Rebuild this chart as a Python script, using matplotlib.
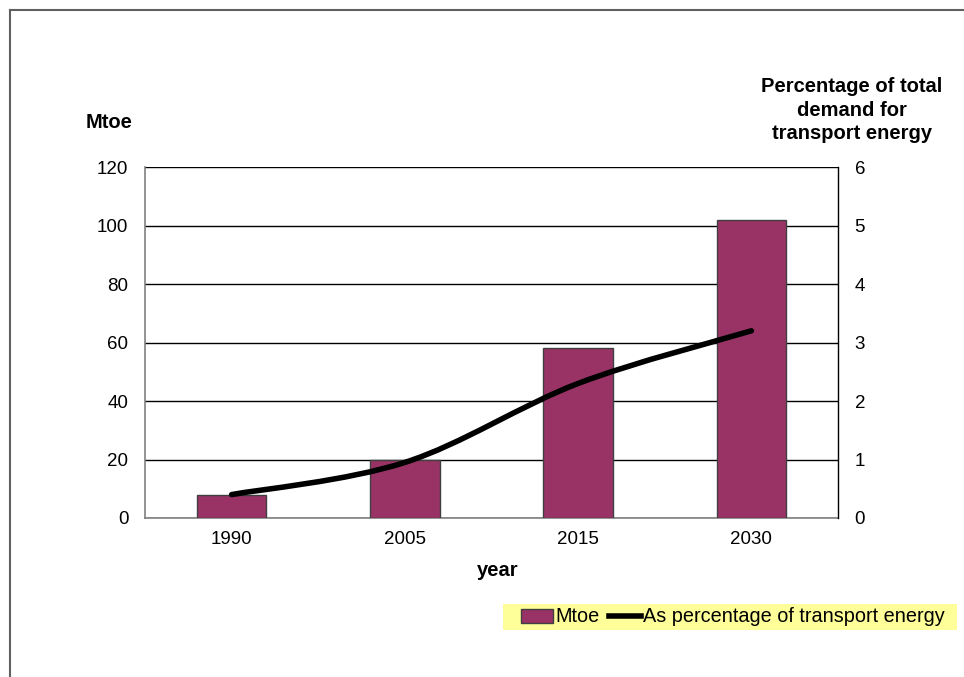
import matplotlib
matplotlib.use("Agg")
import matplotlib.pyplot as plt
import numpy as np
from matplotlib.path import Path
from matplotlib.patches import PathPatch, Rectangle, Patch
from matplotlib.lines import Line2D

plt.rcParams['font.family'] = ['Liberation Sans', 'DejaVu Sans']

years = ["1990", "2005", "2015", "2030"]
mtoe = [8, 20, 58, 102]
pct = [0.4, 0.95, 2.3, 3.2]

fig = plt.figure(figsize=(9.64, 6.77), dpi=100)
W, H = 964, 677
ax = fig.add_axes([145 / W, 1 - 518 / H, (838 - 145) / W, (518 - 167) / H])
x = np.arange(len(years))
ax.bar(x, mtoe, width=0.4, color='#993366', edgecolor='#404040', linewidth=1, zorder=3)
ax.set_xlim(-0.5, 3.5)
ax.set_ylim(0, 120)
ax.set_yticks(np.arange(0, 121, 20))
ax.set_xticks(x)
ax.set_xticklabels(years)
ax.tick_params(axis='both', labelsize=13.5, length=0, pad=12)
ax.tick_params(axis='x', pad=9)
ax.grid(axis='y', color='black', linewidth=1, zorder=0)
for s in ['left', 'bottom']:
    ax.spines[s].set_color('#808080')
    ax.spines[s].set_linewidth(1.2)
ax.spines['top'].set_visible(False)
ax.spines['right'].set_visible(False)

ax2 = ax.twinx()
ax2.set_ylim(0, 6)
ax2.set_yticks(np.arange(0, 7, 1))
ax2.tick_params(axis='y', labelsize=13.5, length=0, pad=12)
for s in ['left', 'top', 'bottom']:
    ax2.spines[s].set_visible(False)
ax2.spines['right'].set_color('black')
ax2.spines['right'].set_linewidth(1)

# smooth curve through points (Catmull-Rom -> cubic Bezier)
px = np.array(x, dtype=float)
py = np.array(pct, dtype=float)
verts = [(px[0], py[0])]
codes = [Path.MOVETO]
t = 1 / 6
n = len(px)
for i in range(n - 1):
    p0 = (px[max(i - 1, 0)], py[max(i - 1, 0)])
    p1 = (px[i], py[i])
    p2 = (px[i + 1], py[i + 1])
    p3 = (px[min(i + 2, n - 1)], py[min(i + 2, n - 1)])
    c1 = (p1[0] + (p2[0] - p0[0]) * t, p1[1] + (p2[1] - p0[1]) * t)
    c2 = (p2[0] - (p3[0] - p1[0]) * t, p2[1] - (p3[1] - p1[1]) * t)
    verts += [c1, c2, p2]
    codes += [Path.CURVE4] * 3
ax2.add_patch(PathPatch(Path(verts, codes), facecolor='none', edgecolor='black',
                        linewidth=4, capstyle='round', zorder=5))

fig.text(109 / W, 1 - 123 / H, "Mtoe", fontsize=14.5, fontweight='bold', ha='center', va='center')
fig.text(498 / W, 1 - 571 / H, "year", fontsize=14.5, fontweight='bold', ha='center', va='center')
fig.text(852 / W, 1 - 110 / H, "Percentage of total\ndemand for\ntransport energy",
         fontsize=14.5, fontweight='bold', ha='center', va='center', linespacing=1.3)

# legend box
fig.patches.append(Rectangle((503 / W, 1 - 630 / H), (957 - 503) / W, 26 / H,
                             transform=fig.transFigure, facecolor='#FFFF99', edgecolor='none'))
handles = [Patch(facecolor='#993366', edgecolor='#404040'),
           Line2D([0], [0], color='black', linewidth=4)]
fig.legend(handles, ["Mtoe", "As percentage of transport energy"],
           loc='center', bbox_to_anchor=(733 / W, 1 - 617 / H), ncol=2, frameon=False,
           fontsize=14.3, handlelength=1.6, handletextpad=0.1, columnspacing=0.5)

# outer frame
fig.add_artist(Line2D([10 / W, 10 / W], [0, 1 - 10 / H], transform=fig.transFigure, color='#606060', linewidth=1.5))
fig.add_artist(Line2D([10 / W, 1], [1 - 10 / H, 1 - 10 / H], transform=fig.transFigure, color='#606060', linewidth=1.5))

fig.savefig("out.png", dpi=100)
